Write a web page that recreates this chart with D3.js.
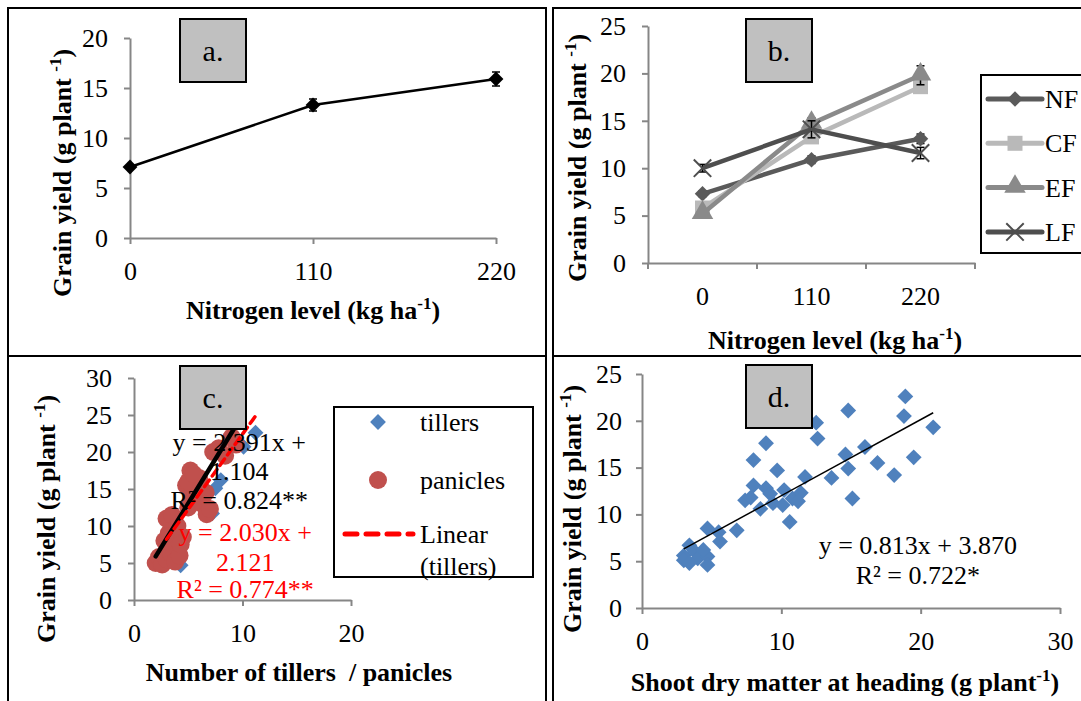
<!DOCTYPE html>
<html lang="en">
<head>
<meta charset="utf-8">
<title>Grain yield</title>
<script src="https://cdn.jsdelivr.net/npm/d3@7"></script>
<style>
body { margin: 0; background: #fff; }
text { white-space: pre; }
</style>
</head>
<body>
<script>

// a. grain yield vs nitrogen level
var nLevels = [0, 110, 220];
var yieldA = [7.1, 13.3, 15.9];
var errA = [0.2, 0.6, 0.7];

// b. fertiliser timing series
var seriesB = ["NF", "CF", "EF", "LF"];
var nfB = [7.3, 10.9, 13.1];
var cfB = [5.8, 13.3, 18.6];
var efB = [5.2, 14.7, 19.8];
var lfB = [10.0, 14.1, 11.6];
var nfErr = [0.3, 0.4, 0.5];
var cfErr = [0.4, 0.6, 0.5];
var efErr = [0.3, 0.6, 1.0];
var lfErr = [0.4, 0.9, 0.6];

// c. tillers / panicles
var tillersX = [11.2, 10.1, 8.0, 7.5, 7.2, 4.3, 4.5, 5.0, 6.0, 3.6, 6.2, 8.4, 9.0, 3.0];
var tillersY = [22.6, 20.7, 16.2, 15.1, 11.7, 4.7, 8.4, 12.4, 16.4, 10.1, 15.0, 19.4, 21.8, 5.5];
var paniclesX = [2.0, 2.3, 2.6, 3.0, 3.4, 3.8, 4.2, 2.8, 3.2, 3.6, 4.5, 3.0, 3.5, 4.0, 5.0, 5.4,
                 4.8, 5.2, 6.0, 6.3, 6.7, 7.0, 5.0, 5.5, 6.2, 7.3, 7.8, 8.4, 9.0, 9.4, 4.3, 6.6];
var paniclesY = [5.0, 5.8, 4.8, 5.5, 6.3, 5.2, 6.0, 8.0, 9.0, 10.2, 8.5, 11.0, 11.5, 10.0, 12.5, 14.0,
                 15.5, 17.5, 16.5, 13.0, 11.6, 12.3, 16.0, 17.0, 15.0, 20.0, 20.5, 19.5, 22.0, 21.0, 7.5, 14.5];
var fitPanicles = [2.391, 1.104];
var fitTillers = [2.030, 2.121];

// d. shoot dry matter
var dryX = [18.9, 18.8, 14.8, 20.9, 19.5, 12.5, 12.6, 8.9, 8.0, 16.0, 14.6, 14.8, 16.9, 18.1, 13.6,
            15.1, 9.7, 11.7, 8.0, 8.9, 10.2, 7.4, 8.5, 9.4, 10.1, 10.8, 11.4, 10.6, 6.8, 4.7,
            5.5, 5.6, 3.4, 3.0, 3.0, 3.8, 4.0, 4.7, 4.7, 4.4, 3.4, 9.2, 11.2, 7.8];
var grainY = [22.6, 20.5, 21.1, 19.3, 16.1, 19.8, 18.1, 17.6, 15.8, 17.2, 16.4, 14.9, 15.5, 14.2, 13.9,
              11.7, 14.7, 14.0, 13.1, 12.8, 12.6, 11.5, 10.6, 11.2, 11.0, 11.7, 12.3, 9.2, 8.3, 8.5,
              8.1, 7.1, 6.7, 5.6, 5.1, 6.0, 5.3, 5.5, 4.6, 6.2, 4.8, 12.2, 11.4, 11.8];
var fitD = [0.813, 3.870];

var FONT = '"Liberation Serif", "Times New Roman", serif';
var AXIS = "#868686";
var BLUE = "#4f81bd", RED = "#c0504d";

var svg = d3.select("body").append("svg")
            .attr("width", 1081)
            .attr("height", 701)
            .style("display", "block");

svg.append("rect").attr("width", 1081).attr("height", 701).attr("fill", "#fff");

//panel frames
[[8, 8, 538, 348], [553, 8, 540, 348], [8, 356, 538, 352], [553, 356, 540, 352]].forEach(function(f) {
    svg.append("rect")
       .attr("x", f[0]).attr("y", f[1]).attr("width", f[2]).attr("height", f[3])
       .attr("fill", "none").attr("stroke", "#000").attr("stroke-width", 2);
});

function drawAxis(axis, tx, ty) {
    var g = svg.append("g")
               .attr("transform", "translate(" + tx + "," + ty + ")")
               .call(axis);
    g.attr("font-size", 26).attr("font-family", FONT);
    g.select(".domain").attr("stroke", AXIS).attr("stroke-width", 2);
    g.selectAll(".tick line").attr("stroke", AXIS).attr("stroke-width", 2);
    g.selectAll(".tick text").attr("fill", "#000");
    return g;
}

function title(x, y, main, sup, tail, rotate) {
    var t = svg.append("text")
               .attr("transform", "translate(" + x + "," + y + ")" + (rotate ? " rotate(-90)" : ""))
               .attr("text-anchor", "middle")
               .attr("dy", "0.35em")
               .attr("font-family", FONT)
               .attr("font-size", 26)
               .attr("font-weight", "bold");
    t.append("tspan").text(main);
    if (sup) {
        t.append("tspan").attr("dy", -10).attr("font-size", 17).text(sup);
        t.append("tspan").attr("dy", 10).text(tail);
    }
}

function labelBox(x, y, s) {
    svg.append("rect")
       .attr("x", x).attr("y", y).attr("width", 66).attr("height", 63)
       .attr("fill", "#c0c0c0").attr("stroke", "#000").attr("stroke-width", 2);
    svg.append("text")
       .attr("x", x + 33).attr("y", y + 31).attr("dy", "0.35em")
       .attr("text-anchor", "middle")
       .attr("font-family", FONT).attr("font-size", 30)
       .text(s);
}

function note(x, y, s, color) {
    svg.append("text")
       .attr("x", x).attr("y", y).attr("dy", "0.35em")
       .attr("text-anchor", "middle")
       .attr("font-family", FONT).attr("font-size", 26)
       .attr("fill", color)
       .text(s);
}

var diamond = d3.symbol().type(d3.symbolSquare).size(125);
var timesType = d3.symbolTimes || d3.symbolCross;

function errorBars(g, rows, x, y) {
    rows.forEach(function(d) {
        var cx = x(d.n), y0 = y(d.v - d.e), y1 = y(d.v + d.e);
        g.append("line").attr("x1", cx).attr("x2", cx).attr("y1", y0).attr("y2", y1)
         .attr("stroke", "#000").attr("stroke-width", 1.5);
        [y0, y1].forEach(function(yy) {
            g.append("line").attr("x1", cx - 4).attr("x2", cx + 4).attr("y1", yy).attr("y2", yy)
             .attr("stroke", "#000").attr("stroke-width", 1.5);
        });
    });
}

// ---------------- panel a ----------------
var xa = d3.scalePoint().domain(nLevels).range([130, 496]);
var ya = d3.scaleLinear().domain([0, 20]).range([238, 38]);

drawAxis(d3.axisLeft(ya).tickValues([0, 5, 10, 15, 20]).tickSize(6).tickSizeOuter(0).tickPadding(16), 130, 0);
drawAxis(d3.axisBottom(xa).tickSize(6).tickSizeOuter(0).tickPadding(18), 0, 238);

var rowsA = nLevels.map(function(n, i) { return {n: n, v: yieldA[i], e: errA[i]}; });
var gA = svg.append("g");
gA.append("path")
  .attr("d", d3.line().x(function(d) { return xa(d.n); }).y(function(d) { return ya(d.v); })(rowsA))
  .attr("fill", "none").attr("stroke", "#000").attr("stroke-width", 2.5);
errorBars(gA, rowsA, xa, ya);
gA.selectAll(".pt").data(rowsA).enter().append("path")
  .attr("d", d3.symbol().type(d3.symbolSquare).size(110))
  .attr("transform", function(d) { return "translate(" + xa(d.n) + "," + ya(d.v) + ") rotate(45)"; })
  .attr("fill", "#000");

title(62, 173, "Grain yield (g plant ", "-1", ")", true);
title(313, 310, "Nitrogen level (kg ha", "-1", ")");
labelBox(180, 19, "a.");

// ---------------- panel b ----------------
var xb = d3.scaleBand().domain(nLevels).range([648, 975]);
var yb = d3.scaleLinear().domain([0, 25]).range([263, 26]);

drawAxis(d3.axisLeft(yb).tickValues([0, 5, 10, 15, 20, 25]).tickSize(6).tickSizeOuter(0).tickPadding(16), 648, 0);
var axB = drawAxis(d3.axisBottom(xb).tickSize(0).tickSizeOuter(0).tickPadding(24), 0, 263);
//ticks sit between the categories
d3.range(nLevels.length + 1).forEach(function(i) {
    var ex = xb.range()[0] + i * xb.step();
    axB.append("line").attr("x1", ex).attr("x2", ex).attr("y1", 0).attr("y2", 6)
       .attr("stroke", AXIS).attr("stroke-width", 2);
});

var valsB = [nfB, cfB, efB, lfB];
var errsB = [nfErr, cfErr, efErr, lfErr];
var colorB = {NF: "#5a5a5a", CF: "#b9b9b9", EF: "#8a8a8a", LF: "#4e4e4e"};
var shapeB = {NF: "diamond", CF: "square", EF: "triangle", LF: "times"};

function markerB(g, name, x, y) {
    var s = shapeB[name], c = colorB[name];
    if (s === "diamond") {
        g.append("path").attr("d", d3.symbol().type(d3.symbolSquare).size(120))
         .attr("transform", "translate(" + x + "," + y + ") rotate(45)").attr("fill", c);
    } else if (s === "square") {
        g.append("path").attr("d", d3.symbol().type(d3.symbolSquare).size(225))
         .attr("transform", "translate(" + x + "," + y + ")").attr("fill", c);
    } else if (s === "triangle") {
        g.append("path").attr("d", d3.symbol().type(d3.symbolTriangle).size(200))
         .attr("transform", "translate(" + x + "," + (y - 1) + ")").attr("fill", c);
    } else {
        g.append("path").attr("d", d3.symbol().type(timesType).size(200))
         .attr("transform", "translate(" + x + "," + y + ")")
         .attr("fill", "none").attr("stroke", c).attr("stroke-width", 2);
    }
}

var lineB = d3.line()
              .x(function(d) { return xb(d.n) + xb.bandwidth() / 2; })
              .y(function(d) { return yb(d.v); });

seriesB.forEach(function(name, k) {
    var rows = nLevels.map(function(n, i) { return {n: n, v: valsB[k][i], e: errsB[k][i]}; });
    var g = svg.append("g");
    g.append("path").attr("d", lineB(rows))
     .attr("fill", "none").attr("stroke", colorB[name]).attr("stroke-width", 4.5)
     .attr("stroke-linejoin", "round");
    errorBars(g, rows, function(n) { return xb(n) + xb.bandwidth() / 2; }, yb);
    rows.forEach(function(d) { markerB(g, name, xb(d.n) + xb.bandwidth() / 2, yb(d.v)); });
});

//legend b
svg.append("rect").attr("x", 981).attr("y", 75).attr("width", 120).attr("height", 178)
   .attr("fill", "#fff").attr("stroke", "#000").attr("stroke-width", 2);
seriesB.forEach(function(name, k) {
    var ly = 99 + k * 44.3;
    var g = svg.append("g");
    g.append("line").attr("x1", 988).attr("x2", 1042).attr("y1", ly).attr("y2", ly)
     .attr("stroke", colorB[name]).attr("stroke-width", 5).attr("stroke-linecap", "round");
    markerB(g, name, 1015, ly);
    g.append("text").attr("x", 1045).attr("y", ly).attr("dy", "0.35em")
     .attr("font-family", FONT).attr("font-size", 26).text(name);
});

title(577, 158, "Grain yield (g plant ", "-1", ")", true);
title(835, 340, "Nitrogen level (kg ha", "-1", ")");
labelBox(746, 19, "b.");

// ---------------- panel c ----------------
var xc = d3.scaleLinear().domain([0, 20]).range([134, 351]);
var yc = d3.scaleLinear().domain([0, 30]).range([600, 378]);

drawAxis(d3.axisLeft(yc).tickValues([0, 5, 10, 15, 20, 25, 30]).tickSize(6).tickSizeOuter(0).tickPadding(16), 134, 0);
drawAxis(d3.axisBottom(xc).tickValues([0, 10, 20]).tickSize(6).tickSizeOuter(0).tickPadding(18), 0, 600);

var gC = svg.append("g");
gC.selectAll(".til").data(tillersX).enter().append("path")
  .attr("d", diamond)
  .attr("transform", function(d, i) { return "translate(" + xc(d) + "," + yc(tillersY[i]) + ") rotate(45)"; })
  .attr("fill", BLUE);
gC.selectAll(".pan").data(paniclesX).enter().append("circle")
  .attr("cx", function(d) { return xc(d); })
  .attr("cy", function(d, i) { return yc(paniclesY[i]); })
  .attr("r", 9)
  .attr("fill", RED);

var pExt = d3.extent(paniclesX), tExt = d3.extent(tillersX);
gC.append("line")
  .attr("x1", xc(pExt[0])).attr("y1", yc(fitPanicles[0] * pExt[0] + fitPanicles[1]))
  .attr("x2", xc(pExt[1])).attr("y2", yc(fitPanicles[0] * pExt[1] + fitPanicles[1]))
  .attr("stroke", "#000").attr("stroke-width", 4.5).attr("stroke-linecap", "round");
gC.append("line")
  .attr("x1", xc(tExt[0])).attr("y1", yc(fitTillers[0] * tExt[0] + fitTillers[1]))
  .attr("x2", xc(tExt[1])).attr("y2", yc(fitTillers[0] * tExt[1] + fitTillers[1]))
  .attr("stroke", "#ff0000").attr("stroke-width", 3.5)
  .attr("stroke-dasharray", "8,5").attr("stroke-linecap", "round");

note(xc(9.7), yc(21.4), "y = 2.391x +", "#000");
note(xc(9.7), yc(21.4) + 29, "1.104", "#000");
note(xc(9.7), yc(21.4) + 58, "R\u00b2 = 0.824**", "#000");
note(xc(10.25), yc(9.2), "y = 2.030x +", "#ff0000");
note(xc(10.25), yc(9.2) + 30, "2.121", "#ff0000");
note(xc(10.25), yc(9.2) + 57, "R\u00b2 = 0.774**", "#ff0000");

//legend c
svg.append("rect").attr("x", 334).attr("y", 407).attr("width", 199).attr("height", 170)
   .attr("fill", "none").attr("stroke", "#000").attr("stroke-width", 2);
svg.append("path").attr("d", diamond).attr("transform", "translate(378,422) rotate(45)").attr("fill", BLUE);
svg.append("circle").attr("cx", 378).attr("cy", 480).attr("r", 9).attr("fill", RED);
svg.append("line").attr("x1", 345).attr("x2", 413).attr("y1", 534).attr("y2", 534)
   .attr("stroke", "#ff0000").attr("stroke-width", 5)
   .attr("stroke-dasharray", "12,9").attr("stroke-linecap", "round");
[["tillers", 422], ["panicles", 480], ["Linear", 534], ["(tillers)", 566]].forEach(function(t) {
    svg.append("text").attr("x", 420).attr("y", t[1]).attr("dy", "0.35em")
       .attr("font-family", FONT).attr("font-size", 26).text(t[0]);
});

title(46, 519, "Grain yield (g plant ", "-1", ")", true);
title(299, 672, "Number of tillers  / panicles");
labelBox(180, 366, "c.");

// ---------------- panel d ----------------
var xd = d3.scaleLinear().domain([0, 30]).range([642, 1060]);
var yd = d3.scaleLinear().domain([0, 25]).range([608, 374]);

drawAxis(d3.axisLeft(yd).tickValues([0, 5, 10, 15, 20, 25]).tickSize(6).tickSizeOuter(0).tickPadding(14), 642, 0);
drawAxis(d3.axisBottom(xd).tickValues([0, 10, 20, 30]).tickSize(6).tickSizeOuter(0).tickPadding(18), 0, 608);

var gD = svg.append("g");
gD.selectAll(".dm").data(dryX).enter().append("path")
  .attr("d", diamond)
  .attr("transform", function(d, i) { return "translate(" + xd(d) + "," + yd(grainY[i]) + ") rotate(45)"; })
  .attr("fill", BLUE);

var dExt = d3.extent(dryX);
gD.append("line")
  .attr("x1", xd(dExt[0])).attr("y1", yd(fitD[0] * dExt[0] + fitD[1]))
  .attr("x2", xd(dExt[1])).attr("y2", yd(fitD[0] * dExt[1] + fitD[1]))
  .attr("stroke", "#000").attr("stroke-width", 1.5);

note(xd(19.8), yd(6.7), "y = 0.813x + 3.870", "#000");
note(xd(19.8), yd(6.7) + 30, "R\u00b2 = 0.722*", "#000");

title(572, 509, "Grain yield (g plant ", "-1", ")", true);
title(845, 682, "Shoot dry matter at heading (g plant", "-1", ")");
labelBox(746, 365, "d.");

</script>
</body>
</html>
